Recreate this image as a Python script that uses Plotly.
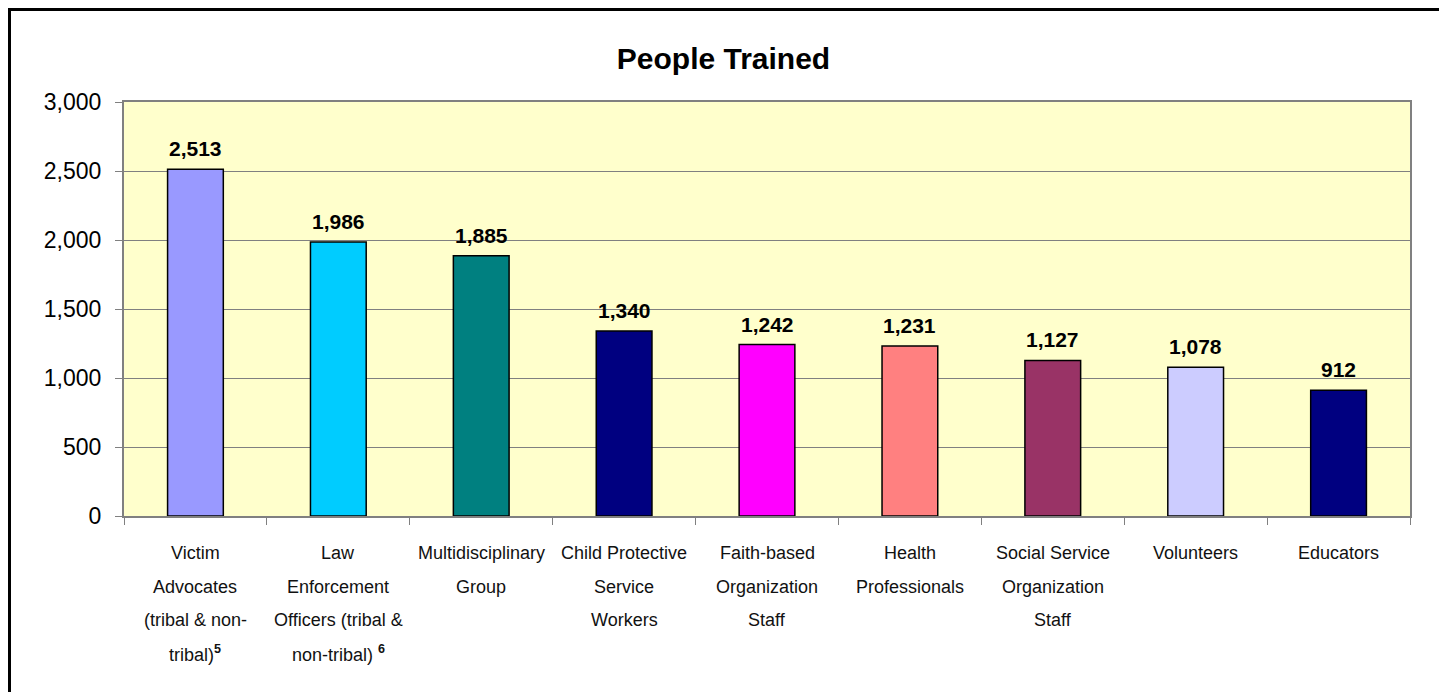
import plotly.graph_objects as go

categories = [
    "Victim Advocates (tribal & non-tribal)",
    "Law Enforcement Officers (tribal & non-tribal)",
    "Multidisciplinary Group",
    "Child Protective Service Workers",
    "Faith-based Organization Staff",
    "Health Professionals",
    "Social Service Organization Staff",
    "Volunteers",
    "Educators",
]
label_lines = [
    ["Victim", "Advocates", "(tribal & non-", "tribal)<sup><b>5</b></sup>"],
    ["Law", "Enforcement", "Officers (tribal &", "non-tribal) <sup><b>6</b></sup>"],
    ["Multidisciplinary", "Group"],
    ["Child Protective", "Service", "Workers"],
    ["Faith-based", "Organization", "Staff"],
    ["Health", "Professionals"],
    ["Social Service", "Organization", "Staff"],
    ["Volunteers"],
    ["Educators"],
]
values = [2513, 1986, 1885, 1340, 1242, 1231, 1127, 1078, 912]
colors = ["#9999FF", "#00CCFF", "#008080", "#000080", "#FF00FF",
          "#FF8080", "#993366", "#CCCCFF", "#000080"]
y_ticks = [0, 500, 1000, 1500, 2000, 2500, 3000]

FONT = "Liberation Sans, Arial, sans-serif"

# page body has an 8px offset; figure is sized to compensate
W, H = 1439, 684
L, R, T, B = 116, 37, 94, 176
PW = W - L - R
PH = H - T - B

fig = go.Figure(go.Bar(
    x=categories,
    y=values,
    marker=dict(color=colors, line=dict(color="black", width=1.5)),
    width=0.39,
    hoverinfo="x+y",
))

annotations = []
for cat, v in zip(categories, values):
    annotations.append(dict(
        x=cat, xref="x", y=v, yref="y",
        text=f"<b>{v:,}</b>", showarrow=False,
        xanchor="center", yanchor="bottom", yshift=7,
        font=dict(family=FONT, size=21, color="black"),
    ))
for cat, lines in zip(categories, label_lines):
    for i, line in enumerate(lines):
        annotations.append(dict(
            x=cat, xref="x", y=0, yref="paper",
            text=line, showarrow=False,
            xanchor="center", yanchor="middle",
            yshift=-(37 + i * 33.5),
            font=dict(family=FONT, size=18, color="#111111"),
        ))

fig.update_layout(
    width=W, height=H,
    margin=dict(l=L, r=R, t=T, b=B),
    paper_bgcolor="white",
    plot_bgcolor="#FFFFCC",
    showlegend=False,
    title=dict(text="<b>People Trained</b>", x=715.5 / W, xanchor="center",
               y=1 - 50 / H, yanchor="middle",
               font=dict(family=FONT, size=30, color="black")),
    annotations=annotations,
    xaxis=dict(
        showticklabels=False, tickson="boundaries", ticks="outside",
        ticklen=7, tickcolor="#808080", showgrid=False,
        showline=True, linecolor="#808080", linewidth=2, mirror=True,
    ),
    yaxis=dict(
        range=[0, 3000], tickvals=y_ticks, tickformat=",",
        ticks="outside", ticklen=7, tickcolor="#808080",
        ticklabelstandoff=9,
        showgrid=True, gridcolor="#808080", gridwidth=1,
        showline=True, linecolor="#808080", linewidth=2, mirror=True,
        zeroline=False,
        tickfont=dict(family=FONT, size=23, color="black"),
    ),
    shapes=[dict(
        type="rect", xref="paper", yref="paper",
        x0=(1.5 - L) / PW, x1=(1436.5 - L) / PW,
        y0=-(B + 20) / PH, y1=(PH + T - 1.5) / PH,
        line=dict(color="black", width=3), fillcolor="rgba(0,0,0,0)",
        layer="below",
    )],
)

fig.write_html("out.html")
